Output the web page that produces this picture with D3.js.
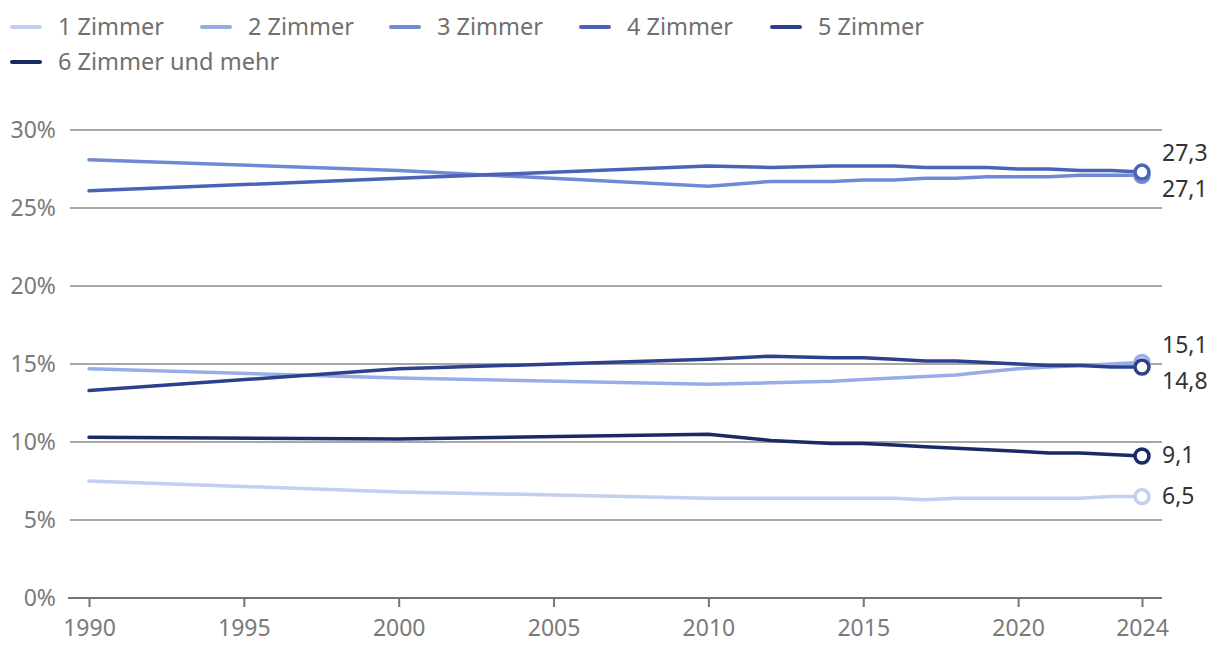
<!DOCTYPE html>
<html>
<head>
<meta charset="utf-8">
<script src="https://cdn.jsdelivr.net/npm/d3@7"></script>
<style>
  body { margin: 0; background: #fff; }
  svg { font-family: "Noto Sans", "Open Sans", sans-serif; }
</style>
</head>
<body>
<div class="chart"></div>
<script>
const width = 1220;
const height = 664;

const years = [1990, 2000, 2010, 2012, 2014, 2015, 2016, 2017, 2018, 2019, 2020, 2021, 2022, 2023, 2024];
const xTicks = [1990, 1995, 2000, 2005, 2010, 2015, 2020, 2024];
const yTicks = [0, 5, 10, 15, 20, 25, 30];

const seriesNames = ['1 Zimmer', '2 Zimmer', '3 Zimmer', '4 Zimmer', '5 Zimmer', '6 Zimmer und mehr'];
const colors = ['#c3cff2', '#98ade6', '#6f89d6', '#4a63b6', '#2c408c', '#1a2a66'];

const zimmer1 = [7.5, 6.8, 6.4, 6.4, 6.4, 6.4, 6.4, 6.3, 6.4, 6.4, 6.4, 6.4, 6.4, 6.5, 6.5];
const zimmer2 = [14.7, 14.1, 13.7, 13.8, 13.9, 14.0, 14.1, 14.2, 14.3, 14.5, 14.7, 14.8, 14.9, 15.0, 15.1];
const zimmer3 = [28.1, 27.4, 26.4, 26.7, 26.7, 26.8, 26.8, 26.9, 26.9, 27.0, 27.0, 27.0, 27.1, 27.1, 27.1];
const zimmer4 = [26.1, 26.9, 27.7, 27.6, 27.7, 27.7, 27.7, 27.6, 27.6, 27.6, 27.5, 27.5, 27.4, 27.4, 27.3];
const zimmer5 = [13.3, 14.7, 15.3, 15.5, 15.4, 15.4, 15.3, 15.2, 15.2, 15.1, 15.0, 14.9, 14.9, 14.8, 14.8];
const zimmer6 = [10.3, 10.2, 10.5, 10.1, 9.9, 9.9, 9.8, 9.7, 9.6, 9.5, 9.4, 9.3, 9.3, 9.2, 9.1];
const endLabels = ['6,5', '15,1', '27,1', '27,3', '14,8', '9,1'];

const allSeries = [zimmer1, zimmer2, zimmer3, zimmer4, zimmer5, zimmer6];

const svg = d3.select('.chart')
  .append('svg')
  .attr('width', width)
  .attr('height', height);

const xScale = d3.scaleLinear().domain([1990, 2024]).range([89, 1142]);
const yScale = d3.scaleLinear().domain([0, 30]).range([598, 130]);

// grid lines
svg.append('g')
  .selectAll('line')
  .data(yTicks.filter((d) => d > 0))
  .enter()
  .append('line')
  .attr('x1', 70)
  .attr('x2', 1162)
  .attr('y1', (d) => yScale(d))
  .attr('y2', (d) => yScale(d))
  .attr('stroke', '#8a8a8a')
  .attr('stroke-width', 1.5);

// y axis labels
const yAxis = d3.axisLeft(yScale)
  .tickValues(yTicks)
  .tickSize(0)
  .tickPadding(14)
  .tickFormat((d) => d + '%');

svg.append('g')
  .attr('transform', 'translate(70, 0)')
  .call(yAxis)
  .call((g) => g.select('.domain').remove())
  .call((g) => g.selectAll('text')
    .attr('font-size', 23)
    .attr('font-family', '"Noto Sans", "Open Sans", sans-serif')
    .attr('fill', '#7a7a7a'));

// x axis
const xAxis = d3.axisBottom(xScale)
  .tickValues(xTicks)
  .tickSize(9)
  .tickSizeOuter(0)
  .tickPadding(13)
  .tickFormat((d) => String(d));

svg.append('g')
  .attr('transform', 'translate(0, 598)')
  .call(xAxis)
  .call((g) => g.select('.domain')
    .attr('d', 'M68,0H1162')
    .attr('stroke', '#757575')
    .attr('stroke-width', 2))
  .call((g) => g.selectAll('.tick line')
    .attr('stroke', '#757575')
    .attr('stroke-width', 2))
  .call((g) => g.selectAll('text')
    .attr('font-size', 23)
    .attr('font-family', '"Noto Sans", "Open Sans", sans-serif')
    .attr('fill', '#7a7a7a'));

// lines
const line = d3.line()
  .x((d, i) => xScale(years[i]))
  .y((d) => yScale(d));

allSeries.forEach((values, s) => {
  svg.append('path')
    .datum(values)
    .attr('d', line)
    .attr('fill', 'none')
    .attr('stroke', colors[s])
    .attr('stroke-width', 3.5)
    .attr('stroke-linejoin', 'round')
    .attr('stroke-linecap', 'round');
});

// end markers
allSeries.forEach((values, s) => {
  const last = values.length - 1;
  svg.append('circle')
    .attr('cx', xScale(years[last]))
    .attr('cy', yScale(values[last]))
    .attr('r', 7)
    .attr('fill', '#fff')
    .attr('stroke', colors[s])
    .attr('stroke-width', 3.5);
});

// end labels
const labelY = [496, 345, 189, 153, 381, 455];
allSeries.forEach((values, s) => {
  svg.append('text')
    .attr('x', 1162)
    .attr('y', labelY[s])
    .attr('dy', '0.35em')
    .attr('font-size', 23)
    .attr('fill', '#333')
    .text(endLabels[s]);
});

// legend
const legendPos = [[10, 27], [200, 27], [389, 27], [579, 27], [770, 27], [10, 62]];
seriesNames.forEach((name, s) => {
  const [lx, ly] = legendPos[s];
  const g = svg.append('g').attr('transform', `translate(${lx}, ${ly})`);
  g.append('line')
    .attr('x1', 2).attr('x2', 30)
    .attr('y1', 0).attr('y2', 0)
    .attr('stroke', colors[s])
    .attr('stroke-width', 4)
    .attr('stroke-linecap', 'round');
  g.append('text')
    .attr('x', 48)
    .attr('dy', '0.35em')
    .attr('font-size', 23.5)
    .attr('fill', '#707070')
    .text(name);
});
</script>
</body>
</html>
